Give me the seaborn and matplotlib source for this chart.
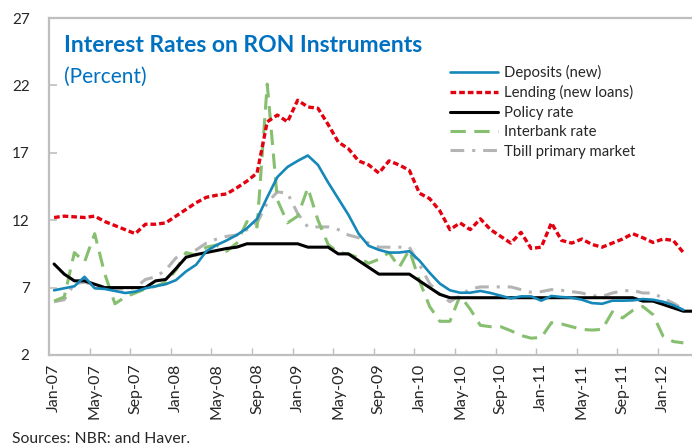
import numpy as np
import pandas as pd
import matplotlib
matplotlib.use("Agg")
import matplotlib.pyplot as plt
import seaborn as sns

# monthly data, Jan-07 .. Apr-12 (64 months)
months = pd.date_range("2007-01-01", periods=64, freq="MS")
month_labels = list(months.strftime("%b-%y"))

deposits = [6.8, 6.95, 7.1, 7.8, 6.95, 6.9, 6.75, 6.6, 6.7, 6.95,
            7.1, 7.25, 7.55, 8.2, 8.7, 9.7, 10.15, 10.5, 10.9, 11.4,
            12.1, 13.7, 15.2, 15.95, 16.4, 16.8, 16.1, 14.8, 13.6, 12.4,
            11.0, 10.1, 9.8, 9.6, 9.6, 9.7, 9.0, 8.1, 7.3, 6.8,
            6.62, 6.62, 6.75, 6.6, 6.4, 6.2, 6.35, 6.35, 6.03, 6.38,
            6.3, 6.25, 6.1, 5.85, 5.8, 6.03, 6.03, 6.05, 6.15, 6.1,
            5.95, 5.7, 5.35, np.nan]

lending = [12.2, 12.3, 12.25, 12.2, 12.3, 11.9, 11.6, 11.3, 11.0, 11.7,
           11.7, 11.8, 12.3, 12.8, 13.3, 13.7, 13.85, 13.95, 14.4, 14.9,
           15.5, 19.3, 19.8, 19.3, 20.9, 20.4, 20.3, 19.1, 17.8, 17.3,
           16.4, 16.1, 15.5, 16.4, 16.1, 15.7, 14.0, 13.6, 12.7, 11.3,
           11.8, 11.3, 12.1, 11.3, 10.8, 10.3, 11.1, 9.9, 10.0, 11.8,
           10.5, 10.3, 10.6, 10.2, 10.0, 10.3, 10.6, 11.0, 10.7, 10.35,
           10.6, 10.5, 9.6, np.nan]

policy = [8.75, 8.0, 7.5, 7.5, 7.25, 7.0, 7.0, 7.0, 7.0, 7.0,
          7.5, 7.6, 8.4, 9.25, 9.45, 9.6, 9.75, 9.9, 10.0, 10.25,
          10.25, 10.25, 10.25, 10.25, 10.25, 10.0, 10.0, 10.0, 9.5, 9.5,
          9.0, 8.5, 8.0, 8.0, 8.0, 8.0, 7.5, 7.0, 6.5, 6.25,
          6.25, 6.25, 6.25, 6.25, 6.25, 6.25, 6.25, 6.25, 6.25, 6.25,
          6.25, 6.25, 6.25, 6.25, 6.25, 6.25, 6.25, 6.25, 6.0, 6.0,
          5.75, 5.5, 5.25, 5.25]

interbank = [6.0, 6.3, 9.6, 8.9, 11.0, 8.0, 5.8, 6.3, 6.6, 6.9,
             7.1, 7.4, 8.3, 9.6, 9.4, 10.0, 10.15, 9.7, 10.3, 11.9,
             11.5, 22.1, 13.5, 11.8, 12.3, 14.4, 12.0, 10.2, 9.6, 9.5,
             9.2, 8.8, 9.1, 9.6, 8.5, 9.8, 7.5, 5.6, 4.5, 4.5,
             6.4, 5.4, 4.2, 4.1, 4.1, 3.8, 3.45, 3.25, 3.3, 4.4,
             4.3, 4.1, 3.9, 3.85, 3.9, 5.2, 4.75, 5.3, 5.6, 5.0,
             3.4, 3.0, 2.9, np.nan]

tbill = [5.95, 6.1, 7.3, 7.4, 7.2, 7.0, 6.9, 6.9, 7.0, 7.6,
         7.8, 8.3, 9.2, 9.5, 9.8, 10.3, 10.6, 10.8, 10.9, 11.3,
         11.8, 13.3, 14.1, 14.0, 12.5, 11.5, 11.5, 11.5, 11.3, 10.9,
         10.7, 10.3, 10.0, 10.0, 10.0, 10.0, 8.7, 7.3, 6.5, 5.95,
         6.4, 6.9, 7.05, 7.05, 7.05, 7.05, 6.85, 6.65, 6.7, 6.85,
         6.8, 6.7, 6.6, 6.4, 6.35, 6.6, 6.75, 6.8, 6.6, 6.6,
         6.2, 5.85, 5.4, np.nan]

y_ticks = [2, 7, 12, 17, 22, 27]

df = pd.DataFrame({
    "idx": np.arange(len(months)),
    "Deposits (new)": deposits,
    "Lending (new loans)": lending,
    "Policy rate": policy,
    "Interbank rate": interbank,
    "Tbill primary market": tbill,
})

sns.set_theme(style="white")
plt.rcParams["font.family"] = ["Lato", "DejaVu Sans"]

fig = plt.figure(figsize=(6.92, 4.47), dpi=100)
W, H = 692, 447
# plot area in pixels: left 49, right 698.6 (clipped), top 18, bottom 355
ax = fig.add_axes([49 / W, (H - 355) / H, (698.6 - 49) / W, (355 - 18) / H])

styles = {
    "Deposits (new)": dict(color="#1587B8", lw=1.9, ls="-"),
    "Lending (new loans)": dict(color="#E3000F", lw=2.4, ls=(0, (1.7, 0.9))),
    "Policy rate": dict(color="black", lw=2.2, ls="-"),
    "Interbank rate": dict(color="#86BF6F", lw=2.2, ls=(0, (5.0, 2.8))),
    "Tbill primary market": dict(color="#B4B4B4", lw=2.2, ls=(0, (4.5, 2.6, 1.0, 2.6))),
}

# draw back to front like the original
for name in ["Tbill primary market", "Interbank rate", "Policy rate",
             "Lending (new loans)", "Deposits (new)"]:
    st = styles[name]
    sns.lineplot(data=df.dropna(subset=[name]), x="idx", y=name, ax=ax,
                 color=st["color"], linewidth=st["lw"], linestyle=st["ls"],
                 label=name)

ax.set_xlim(-0.5, 63.5)
ax.set_ylim(2, 27)
ax.set_yticks(y_ticks)
ax.set_yticklabels([str(v) for v in y_ticks])

ax.set_xticks(np.arange(0, 64, 4))
ax.set_xticklabels(month_labels[::4], rotation=90, va="top", ha="center")
ax.set_xticks(np.arange(3.5, 64, 4), minor=True)
ax.tick_params(axis="x", which="major", length=0, pad=6, labelsize=11.5)
ax.tick_params(axis="x", which="minor", length=5, direction="in",
               color="#BFBFBF", width=1, bottom=True)
ax.tick_params(axis="y", length=6, direction="in", color="#BFBFBF",
               width=1.2, pad=14, labelsize=11, left=True)
ax.set_xlabel("")
ax.set_ylabel("")
ax.grid(False)

for side in ["left", "bottom", "top", "right"]:
    ax.spines[side].set_color("#BFBFBF")
    ax.spines[side].set_linewidth(1.6)

handles, labels = ax.get_legend_handles_labels()
order = ["Deposits (new)", "Lending (new loans)", "Policy rate",
         "Interbank rate", "Tbill primary market"]
hmap = dict(zip(labels, handles))
fig.legend([hmap[k] for k in order], order,
           loc="upper left", bbox_to_anchor=(450 / W, 1 - 65 / H),
           frameon=False, fontsize=10.7, handlelength=3.2,
           handletextpad=0.4, labelspacing=0.36, borderpad=0,
           borderaxespad=0)
ax.get_legend().remove()

fig.text(64 / W, 1 - 52 / H, "Interest Rates on RON Instruments",
         color="#0070C0", fontsize=16.5, fontweight="bold", va="baseline")
fig.text(64 / W, 1 - 83 / H, "(Percent)", color="#0070C0",
         fontsize=15, va="baseline")
fig.text(12 / W, 1 - 443 / H, "Sources: NBR: and Haver.", fontsize=11.3,
         va="baseline")

fig.savefig("out.png", dpi=100)
